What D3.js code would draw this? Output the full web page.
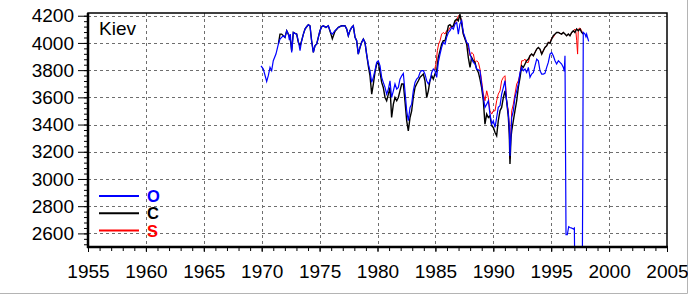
<!DOCTYPE html>
<html>
<head>
<meta charset="utf-8">
<script src="https://cdn.jsdelivr.net/npm/d3@7"></script>
<style>
  body { margin: 0; background: #fff; }
  svg { display: block; font-family: "Liberation Sans", Arial, sans-serif; }
</style>
</head>
<body>
<div id="chart"></div>
<script>
// values: [year, value]
var seriesO = [
  [1969.94,3832],[1970.14,3808],[1970.43,3717],[1970.57,3759],[1970.72,3820],[1970.86,3796],
  [1971.00,3869],[1971.23,3918],[1971.44,3992],[1971.58,4028],[1971.72,4041],[1971.87,4053],
  [1972.01,4041],[1972.16,4090],[1972.30,4065],[1972.39,4021],[1972.47,4065],[1972.59,3930],
  [1972.73,4077],[1972.88,4070],[1973.02,4065],[1973.16,4016],[1973.31,3943],[1973.45,4016],
  [1973.60,4065],[1973.74,4102],[1973.88,4119],[1974.03,4134],[1974.17,4126],[1974.31,4016],
  [1974.46,3930],[1974.60,3979],[1974.75,3992],[1974.89,4041],[1975.03,4090],[1975.18,4119],
  [1975.32,4126],[1975.55,4114],[1975.75,4126],[1975.96,4077],[1976.10,4065],[1976.33,4090],
  [1976.62,4114],[1976.90,4126],[1977.19,4126],[1977.34,4102],[1977.48,4053],[1977.62,4090],
  [1977.77,4114],[1977.91,4126],[1978.06,4041],[1978.20,4016],[1978.34,3918],[1978.49,3967],
  [1978.63,4004],[1978.78,4028],[1978.92,4004],[1979.06,3918],[1979.21,3845],[1979.35,3796],
  [1979.50,3710],[1979.64,3747],[1979.78,3796],[1979.93,3857],[1980.07,3869],[1980.22,3832],
  [1980.36,3747],[1980.50,3710],[1980.65,3673],[1980.79,3624],[1980.94,3661],[1981.08,3722],
  [1981.22,3599],[1981.37,3648],[1981.51,3698],[1981.66,3661],[1981.80,3673],[1981.94,3734],
  [1982.09,3759],[1982.23,3776],[1982.37,3648],[1982.52,3502],[1982.66,3428],[1982.81,3526],
  [1982.95,3550],[1983.09,3648],[1983.24,3710],[1983.38,3734],[1983.53,3747],[1983.67,3783],
  [1983.81,3796],[1983.96,3796],[1984.10,3771],[1984.25,3722],[1984.39,3698],[1984.53,3722],
  [1984.68,3783],[1984.82,3808],[1984.96,3796],[1985.11,3747],[1985.25,3857],[1985.40,3918],
  [1985.54,3967],[1985.68,4004],[1985.83,3992],[1985.97,4041],[1986.12,4077],[1986.26,4090],
  [1986.40,4114],[1986.55,4102],[1986.69,4139],[1986.84,4151],[1986.98,4065],[1987.12,4139],
  [1987.27,4163],[1987.41,4077],[1987.56,4041],[1987.70,4004],[1987.84,3992],[1987.99,3918],
  [1988.13,3881],[1988.28,3857],[1988.42,3845],[1988.56,3808],[1988.85,3796],[1988.99,3698],
  [1989.14,3599],[1989.28,3526],[1989.43,3550],[1989.57,3575],[1989.71,3477],[1989.86,3403],
  [1990.00,3428],[1990.15,3379],[1990.29,3452],[1990.43,3526],[1990.58,3538],[1990.72,3624],
  [1990.87,3673],[1991.01,3722],[1991.15,3575],[1991.30,3477],[1991.38,3379],[1991.44,3170],
  [1991.53,3330],[1991.59,3452],[1991.73,3501],[1991.87,3599],[1992.02,3648],[1992.16,3698],
  [1992.31,3783],[1992.45,3820],[1992.59,3796],[1992.74,3808],[1992.88,3783],[1993.03,3820],
  [1993.17,3747],[1993.31,3771],[1993.46,3783],[1993.60,3832],[1993.75,3881],[1993.89,3869],
  [1994.03,3796],[1994.18,3771],[1994.32,3771],[1994.46,3776],[1994.61,3820],[1994.75,3857],
  [1994.90,3918],[1995.04,3930],[1995.18,3906],[1995.33,3869],[1995.47,3845],[1995.62,3869],
  [1995.76,3857],[1995.90,3845],[1996.05,3820],[1996.13,3791],[1996.19,3906],[1996.28,2590],
  [1996.39,2590],[1996.51,2649],[1996.62,2643],[1996.77,2639],[1996.91,2632],[1997.00,2639],
  [1997.03,2400],[1997.69,2400],[1997.72,2918],[1997.77,4077],[1997.92,4065],[1998.00,4046],
  [1998.06,4065],[1998.15,4036],[1998.24,4011]
];

var seriesC = [
  [1971.44,3992],[1971.58,4065],[1971.72,4065],[1971.87,4053],[1972.01,4041],[1972.16,4090],
  [1972.30,4065],[1972.45,4041],[1972.59,3943],[1972.73,4077],[1972.88,4070],[1973.02,4065],
  [1973.16,4004],[1973.31,3979],[1973.45,4016],[1973.60,4065],[1973.74,4102],[1973.88,4119],
  [1974.03,4134],[1974.17,4126],[1974.31,4016],[1974.46,3930],[1974.60,3979],[1974.75,3992],
  [1974.89,4041],[1975.03,4090],[1975.18,4119],[1975.32,4126],[1975.55,4114],[1975.75,4126],
  [1975.96,4070],[1976.10,4030],[1976.33,4085],[1976.62,4114],[1976.90,4126],[1977.19,4126],
  [1977.34,4102],[1977.48,4053],[1977.62,4090],[1977.77,4114],[1977.91,4126],[1978.06,4041],
  [1978.20,4016],[1978.34,3918],[1978.49,3967],[1978.63,4004],[1978.78,4028],[1978.92,4004],
  [1979.06,3918],[1979.21,3830],[1979.35,3760],[1979.50,3624],[1979.64,3698],[1979.78,3783],
  [1979.93,3845],[1980.07,3857],[1980.22,3783],[1980.36,3710],[1980.50,3673],[1980.65,3599],
  [1980.79,3575],[1980.94,3624],[1981.08,3673],[1981.22,3452],[1981.37,3550],[1981.51,3599],
  [1981.66,3575],[1981.80,3599],[1981.94,3648],[1982.09,3698],[1982.23,3698],[1982.37,3575],
  [1982.52,3428],[1982.66,3354],[1982.81,3452],[1982.95,3501],[1983.09,3599],[1983.24,3673],
  [1983.38,3698],[1983.53,3722],[1983.67,3747],[1983.81,3759],[1983.96,3771],[1984.10,3722],
  [1984.25,3599],[1984.39,3648],[1984.53,3722],[1984.68,3759],[1984.82,3734],[1984.96,3771],
  [1985.11,3796],[1985.25,3894],[1985.40,3943],[1985.54,3992],[1985.68,4016],[1985.83,4016],
  [1985.97,4065],[1986.12,4126],[1986.26,4134],[1986.40,4119],[1986.55,4126],[1986.69,4163],
  [1986.84,4175],[1986.98,4163],[1987.12,4212],[1987.27,4139],[1987.41,4065],[1987.56,4028],
  [1987.70,3992],[1987.84,3894],[1987.99,3820],[1988.13,3894],[1988.28,3869],[1988.42,3857],
  [1988.56,3808],[1988.71,3783],[1988.85,3734],[1988.99,3673],[1989.14,3575],[1989.28,3403],
  [1989.43,3477],[1989.57,3452],[1989.71,3465],[1989.86,3391],[1990.00,3379],[1990.15,3342],
  [1990.29,3318],[1990.43,3428],[1990.58,3501],[1990.72,3526],[1990.87,3599],[1991.01,3648],
  [1991.15,3575],[1991.30,3452],[1991.38,3330],[1991.44,3110],[1991.53,3305],[1991.59,3354],
  [1991.73,3428],[1991.87,3501],[1992.02,3575],[1992.16,3673],[1992.31,3747],[1992.45,3832],
  [1992.59,3820],[1992.74,3845],[1992.88,3869],[1993.03,3881],[1993.17,3906],[1993.31,3918],
  [1993.46,3906],[1993.60,3930],[1993.75,3955],[1993.89,3967],[1994.03,3955],[1994.18,3918],
  [1994.32,3943],[1994.46,3967],[1994.61,3979],[1994.75,4004],[1994.90,3997],[1995.04,4028],
  [1995.18,4053],[1995.33,4065],[1995.47,4077],[1995.62,4077],[1995.76,4070],[1995.90,4065],
  [1996.05,4077],[1996.19,4065],[1996.33,4053],[1996.48,4065],[1996.62,4053],[1996.77,4077],
  [1996.91,4090],[1997.05,4077],[1997.20,4102],[1997.34,4090],[1997.49,4102],[1997.63,4077],
  [1997.77,4065]
];

var seriesS = [
  [1984.91,3796],[1985.05,3845],[1985.17,3943],[1985.28,3992],[1985.40,4016],[1985.54,4065],
  [1985.68,4077],[1985.83,4065],[1985.97,4090],[1986.12,4090],[1986.26,4114],[1986.55,4119],
  [1986.69,4151],[1986.84,4163],[1986.98,4200],[1987.12,4200],[1987.27,4163],[1987.41,4065],
  [1987.56,4028],[1987.70,4004],[1987.84,3967],[1987.99,3906],[1988.13,3930],[1988.28,3918],
  [1988.42,3857],[1988.56,3869],[1988.71,3857],[1988.85,3808],[1988.99,3722],[1989.14,3624],
  [1989.28,3575],[1989.43,3648],[1989.57,3599],[1989.71,3501],[1989.86,3477],[1990.00,3501],
  [1990.15,3501],[1990.29,3575],[1990.43,3624],[1990.58,3648],[1990.72,3722],[1990.87,3747],
  [1991.01,3759],[1991.15,3575],[1991.30,3501],[1991.38,3379],[1991.44,3150],[1991.53,3379],
  [1991.59,3501],[1991.73,3550],[1991.87,3624],[1992.02,3698],[1992.16,3722],[1992.31,3771],
  [1992.45,3869],[1992.59,3869],[1992.74,3881],[1992.88,3857],[1993.03,3857],[1993.17,3906],
  [1993.31,3918],[1993.46,3906],[1993.60,3930],[1993.75,3955],[1993.89,3967],[1994.03,3955],
  [1994.18,3918],[1994.32,3943],[1994.46,3967],[1994.61,3979],[1994.75,4004],[1994.90,4004],
  [1995.04,4036],[1995.18,4041],[1995.33,4065],[1995.47,4077],[1995.62,4077],[1995.76,4070],
  [1995.90,4065],[1996.05,4077],[1996.19,4065],[1996.33,4053],[1996.48,4065],[1996.62,4053],
  [1996.77,4077],[1996.91,4085],[1997.05,4102],[1997.14,4077],[1997.20,4016],[1997.28,3918],
  [1997.34,4102],[1997.49,4110],[1997.63,4090],[1997.72,4065]
];

var legendNames = ["O", "C", "S"];
var legendColors = ["#0000ff", "#000000", "#ff0000"];
var yearTicks = d3.range(1955, 2006, 5);
var valueTicks = d3.range(2600, 4201, 200);
var chartTitle = "Kiev";

var W = 688, H = 294;
var margin = {top: 13, right: 21, bottom: 47, left: 88};
var width = W - margin.left - margin.right,
    height = H - margin.top - margin.bottom;

var svg = d3.select("#chart").append("svg")
    .attr("width", W)
    .attr("height", H);

svg.append("rect").attr("width", W).attr("height", H).attr("fill", "#fff");

// light frame on the right / bottom edge of the picture
svg.append("path")
    .attr("d", "M" + (W - 0.5) + ",0V" + (H - 0.5) + "H0")
    .attr("fill", "none")
    .attr("stroke", "#b4b4b4");

var g = svg.append("g")
    .attr("transform", "translate(" + margin.left + "," + margin.top + ")");

var x = d3.scaleLinear().domain([1955, 2005]).range([0, width]);
var y = d3.scaleLinear().domain([2500, 4220]).range([height, 0]);

svg.append("defs").append("clipPath")
    .attr("id", "clip")
    .append("rect")
    .attr("width", width)
    .attr("height", height);

// grid
g.append("g")
    .selectAll("line")
    .data(yearTicks.filter(function (d) { return d > 1955 && d < 2005; }))
    .enter().append("line")
    .attr("x1", function (d) { return Math.round(x(d)) + 0.5; })
    .attr("x2", function (d) { return Math.round(x(d)) + 0.5; })
    .attr("y1", 0).attr("y2", height)
    .attr("stroke", "#6e6e6e")
    .attr("stroke-dasharray", "3,3");

g.append("g")
    .selectAll("line")
    .data(valueTicks)
    .enter().append("line")
    .attr("y1", function (d) { return Math.round(y(d)) + 0.5; })
    .attr("y2", function (d) { return Math.round(y(d)) + 0.5; })
    .attr("x1", 0).attr("x2", width)
    .attr("stroke", "#6e6e6e")
    .attr("stroke-dasharray", "3,3");

// series, red first so black and blue sit on top
var line = d3.line()
    .x(function (d) { return x(d[0]); })
    .y(function (d) { return y(d[1]); });

var plot = g.append("g").attr("clip-path", "url(#clip)");

[[seriesS, "#ff0000", 1], [seriesC, "#000000", 1.4], [seriesO, "#0000ff", 1.2]].forEach(function (s) {
    plot.append("path")
        .datum(s[0])
        .attr("fill", "none")
        .attr("stroke", s[1])
        .attr("stroke-width", s[2])
        .attr("d", line);
});

// axes
var yAxis = d3.axisLeft(y).tickValues(valueTicks).tickSize(10).tickPadding(4)
    .tickFormat(d3.format("d"));
var yMinor = d3.axisLeft(y).tickValues(d3.range(2520, 4220, 40)).tickSize(4).tickFormat("");
var xAxis = d3.axisBottom(x).tickValues(yearTicks).tickSize(5).tickPadding(13)
    .tickFormat(d3.format("d"));
var xMinor = d3.axisBottom(x).tickValues(d3.range(1955, 2006, 1)).tickSize(4).tickFormat("");

[yMinor, yAxis].forEach(function (a) {
    var ax = g.append("g").call(a);
    ax.select(".domain").remove();
    ax.selectAll("line").attr("stroke", "#000");
    ax.selectAll("text").attr("font-size", 19).attr("fill", "#000")
        .attr("font-family", "'Liberation Sans', Arial, sans-serif");
});

[xMinor, xAxis].forEach(function (a) {
    var ax = g.append("g").attr("transform", "translate(0," + height + ")").call(a);
    ax.select(".domain").remove();
    ax.selectAll("line").attr("stroke", "#000");
    ax.selectAll("text").attr("font-size", 19).attr("fill", "#000")
        .attr("font-family", "'Liberation Sans', Arial, sans-serif");
});

// frame
g.append("rect")
    .attr("x", 0).attr("y", 0)
    .attr("width", width).attr("height", height)
    .attr("fill", "none")
    .attr("stroke", "#000")
    .attr("stroke-width", 1.5);

g.append("line").attr("x1", 0).attr("x2", 0).attr("y1", 0).attr("y2", height + 1)
    .attr("stroke", "#000").attr("stroke-width", 2.5);
g.append("line").attr("x1", -1).attr("x2", width + 1).attr("y1", height).attr("y2", height)
    .attr("stroke", "#000").attr("stroke-width", 2.5);

// title
g.append("text")
    .attr("x", 11).attr("y", 22)
    .attr("font-size", 19)
    .text(chartTitle);

// legend
var legend = g.append("g").attr("transform", "translate(11,183)");
legendNames.forEach(function (name, i) {
    var row = legend.append("g").attr("transform", "translate(0," + (i * 17.3) + ")");
    row.append("line")
        .attr("x1", 0).attr("x2", 40)
        .attr("stroke", legendColors[i])
        .attr("stroke-width", 2);
    row.append("text")
        .attr("x", 48).attr("y", 6)
        .attr("font-size", 16.5)
        .attr("font-weight", "bold")
        .attr("fill", legendColors[i])
        .text(name);
});
</script>
</body>
</html>
